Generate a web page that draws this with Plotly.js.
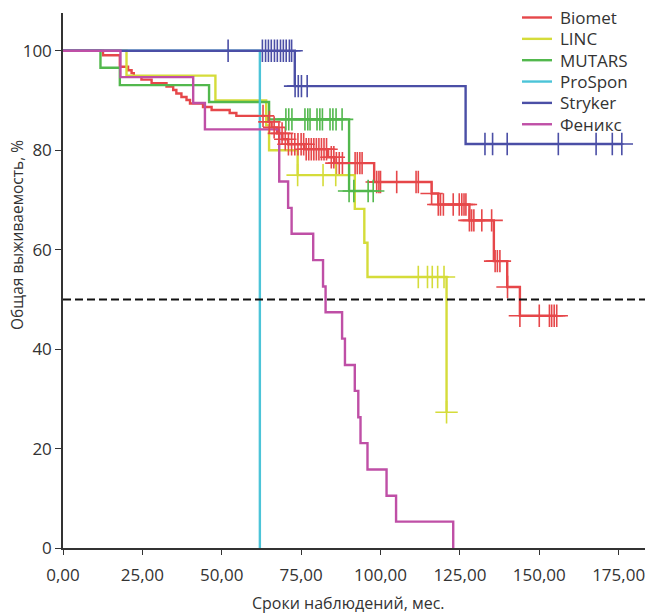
<!DOCTYPE html>
<html><head><meta charset="utf-8">
<script src="https://cdn.plot.ly/plotly-3.0.1.min.js"></script>
<style>html,body{margin:0;padding:0;background:#fff}</style>
</head><body><div id="chart" style="width:651px;height:615px"></div>
<script>
// ---- data ----
const seriesNames = ["Biomet", "LINC", "MUTARS", "ProSpon", "Stryker", "Феникс"];
const seriesColors = ["#e6474a", "#d5dc3a", "#52b84d", "#4cc4d8", "#4b4fa6", "#bf4fa6"];

// event times (months) and survival (%) after each drop
const biometTimes = [12.6, 17.9, 20.5, 21.6, 22.3, 24.7, 27.9, 32.6, 34.7, 35.7, 37.3, 38.9, 40.0, 44.1, 46.8, 52.5, 54.6, 64.6, 65.7, 67.4, 69.1, 70.9, 76.0, 83.5, 85.5, 98.0, 116.1, 118.2, 128.0, 135.7, 139.9, 143.9];
const biometSurv  = [99.1, 96.8, 96.1, 95.5, 94.8, 94.2, 93.5, 92.8, 92.1, 91.4, 90.7, 90.1, 89.4, 88.7, 88.1, 87.5, 86.9, 85.7, 84.6, 83.4, 82.2, 81.2, 80.2, 78.6, 77.4, 73.6, 71.3, 69.1, 65.9, 57.7, 52.5, 46.7];
const biometCensored = [63.0, 65.0, 66.5, 68.0, 69.0, 70.0, 71.0, 72.0, 73.0, 74.0, 75.0, 75.8, 76.6, 77.4, 78.2, 79.0, 79.8, 80.6, 81.4, 82.2, 83.0, 84.5, 85.3, 86.1, 87.0, 88.0, 92.0, 92.7, 93.5, 94.2, 98.8, 99.5, 100.0, 105.1, 111.2, 111.9, 116.1, 118.2, 118.9, 119.8, 122.9, 124.8, 125.6, 126.3, 126.9, 128.0, 128.7, 129.4, 131.9, 135.0, 136.1, 136.8, 137.6, 140.0, 143.9, 150.0, 153.2, 153.9, 154.7, 155.5];
const biometEnd = 155.5;

const lincTimes = [20.0, 48.0, 64.0, 64.9, 73.9, 91.9, 94.9, 95.9, 120.8];
const lincSurv  = [95.0, 90.0, 85.0, 80.0, 75.0, 68.2, 61.4, 54.5, 27.3];
const lincCensored = [73.9, 81.9, 85.9, 111.9, 114.8, 116.3, 118.0, 120.0, 120.8];
const lincEnd = 120.8;

const mutarsTimes = [11.8, 17.9, 46.0, 64.9, 90.1];
const mutarsSurv  = [96.6, 93.1, 89.7, 86.2, 71.8];
const mutarsCensored = [70.2, 71.1, 72.1, 76.2, 77.1, 77.8, 80.0, 80.9, 81.7, 84.1, 85.0, 86.0, 87.9, 90.1, 91.6, 96.1, 97.7];
const mutarsEnd = 97.7;

const prosponTimes = [62.0];
const prosponSurv  = [0];
const prosponCensored = [];
const prosponEnd = 62.0;

const strykerTimes = [73.0, 126.8];
const strykerSurv  = [92.9, 81.25];
const strykerCensored = [52.0, 62.8, 63.8, 64.7, 65.6, 66.6, 67.5, 68.5, 69.4, 70.3, 71.3, 72.0, 73.1, 74.1, 75.1, 76.9, 132.9, 135.3, 139.9, 156.0, 167.9, 173.0, 176.0];
const strykerEnd = 176.0;

const fenixTimes = [18.1, 41.0, 44.7, 68.1, 70.9, 72.0, 78.8, 81.9, 82.7, 87.9, 88.8, 91.9, 93.0, 93.7, 95.9, 101.9, 104.9, 122.9];
const fenixSurv  = [94.7, 89.5, 84.2, 73.7, 68.4, 63.2, 57.9, 52.6, 47.4, 42.1, 36.8, 31.6, 26.3, 21.1, 15.8, 10.5, 5.3, 0];
const fenixCensored = [];
const fenixEnd = 122.9;

const medianLevel = 50;
const xTickVals = [0, 25, 50, 75, 100, 125, 150, 175];
const xTickText = ["0,00", "25,00", "50,00", "75,00", "100,00", "125,00", "150,00", "175,00"];
const yTickVals = [0, 20, 40, 60, 80, 100];
const yTickText = ["0", "20", "40", "60", "80", "100"];
const xTitle = "Сроки наблюдений, мес.";
const yTitle = "Общая выживаемость, %";

// ---- build traces ----
const allTimes = [biometTimes, lincTimes, mutarsTimes, prosponTimes, strykerTimes, fenixTimes];
const allSurv = [biometSurv, lincSurv, mutarsSurv, prosponSurv, strykerSurv, fenixSurv];
const allCens = [biometCensored, lincCensored, mutarsCensored, prosponCensored, strykerCensored, fenixCensored];
const allEnd = [biometEnd, lincEnd, mutarsEnd, prosponEnd, strykerEnd, fenixEnd];

function levelAt(times, surv, t) {
  let s = 100;
  for (let i = 0; i < times.length; i++) if (t >= times[i] - 1e-9) s = surv[i];
  return s;
}

const FONT = "Open Sans, Noto Sans, sans-serif";
const lineTraces = [];
const censorTraces = [];
for (let k = 0; k < seriesNames.length; k++) {
  const T = allTimes[k], S = allSurv[k];
  const x = [0].concat(T), y = [100].concat(S);
  if (allEnd[k] > T[T.length - 1]) { x.push(allEnd[k]); y.push(S[S.length - 1]); }
  lineTraces.push({
    type: "scatter", mode: "lines", name: seriesNames[k], x: x, y: y, showlegend: false,
    line: {shape: "hv", color: seriesColors[k], width: 2.4},
    hoverinfo: "x+y+name"
  });
  if (allCens[k].length) {
    censorTraces.push({
      type: "scatter", mode: "markers", showlegend: false, name: seriesNames[k],
      x: allCens[k], y: allCens[k].map(t => levelAt(T, S, t)),
      marker: {symbol: "cross-thin", size: 16, color: seriesColors[k],
               line: {color: seriesColors[k], width: 1.6}},
      hoverinfo: "x+y+name"
    });
  }
}

// ---- legend drawn as shapes + annotations (paper coordinates) ----
const plotL = 63, plotR = 645, plotT = 13, plotB = 548;
const px2x = p => (p - plotL) / (plotR - plotL);
const py2y = p => (plotB - p) / (plotB - plotT);
const legendShapes = [], legendAnns = [];
for (let k = 0; k < seriesNames.length; k++) {
  const cy = 17.5 + k * 21.35;
  legendShapes.push({type: "line", xref: "paper", yref: "paper",
    x0: px2x(522), x1: px2x(552), y0: py2y(cy), y1: py2y(cy),
    line: {color: seriesColors[k], width: 2.4}});
  legendAnns.push({text: seriesNames[k], xref: "paper", yref: "paper",
    x: px2x(558), y: py2y(cy), xanchor: "left", yanchor: "middle", showarrow: false,
    font: {family: FONT, size: 17, color: "#333"}});
}

const tickFont = {family: FONT, size: 17, color: "#333"};
const layout = {
  width: 651, height: 615,
  margin: {l: 63, r: 6, t: 13, b: 67},
  paper_bgcolor: "#fff", plot_bgcolor: "#fff",
  font: tickFont,
  showlegend: false,
  xaxis: {range: [0, 183.3], tickvals: xTickVals, ticktext: xTickText, ticks: "outside",
          ticklen: 5, tickcolor: "#333", showline: true, linecolor: "#333", linewidth: 1.5,
          showgrid: false, zeroline: false, tickfont: tickFont, ticklabelstandoff: 6, fixedrange: true},
  yaxis: {range: [0, 107.6], tickvals: yTickVals, ticktext: yTickText, ticks: "outside",
          ticklen: 6, tickcolor: "#333", showline: true, linecolor: "#333", linewidth: 1.5,
          showgrid: false, zeroline: false, tickfont: tickFont, fixedrange: true},
  shapes: [{type: "line", xref: "paper", x0: 0, x1: 1, yref: "y", y0: medianLevel, y1: medianLevel,
            line: {color: "#111", width: 2, dash: "8px,4px"}}].concat(legendShapes),
  annotations: [
    {text: xTitle, xref: "paper", x: 0.49, yref: "paper", y: 0, yshift: -55, showarrow: false,
     xanchor: "center", yanchor: "middle", font: {family: FONT, size: 16, color: "#333"}},
    {text: yTitle, xref: "paper", x: 0, xshift: -46, yref: "paper", y: 0.585, showarrow: false,
     textangle: -90, xanchor: "center", yanchor: "middle", font: {family: FONT, size: 15.5, color: "#333"}}
  ].concat(legendAnns)
};

Plotly.newPlot("chart", lineTraces.concat(censorTraces), layout, {displayModeBar: false});
</script>
</body></html>
